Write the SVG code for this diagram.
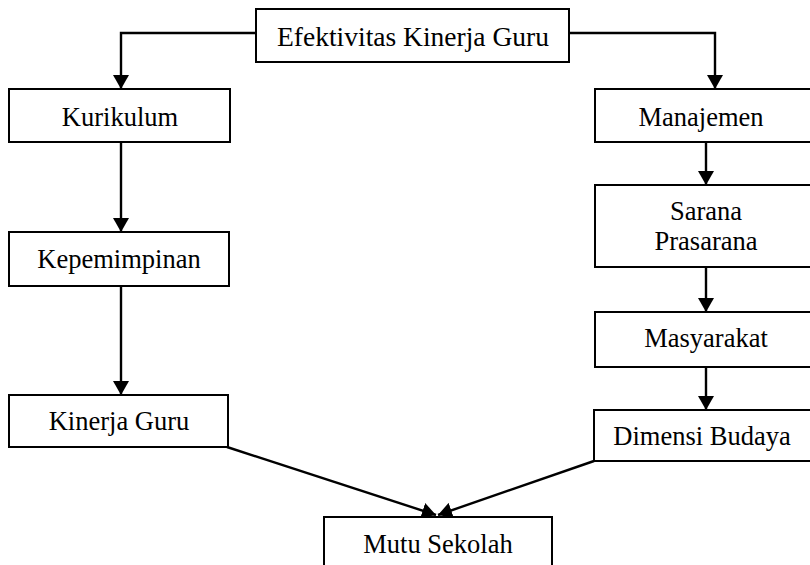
<svg xmlns="http://www.w3.org/2000/svg" width="810" height="565" viewBox="0 0 810 565">
<style>
.box{fill:#fff;stroke:#000;stroke-width:2}
.t{font-family:"Liberation Serif","Times New Roman","DejaVu Serif",serif;font-size:26.5px;fill:#000;text-anchor:middle}
.c{fill:none;stroke:#000;stroke-width:2.4}
</style>
<defs>
<marker id="ah" markerUnits="userSpaceOnUse" markerWidth="15" markerHeight="16" refX="14" refY="8" orient="auto">
<path d="M0,0 L14,8 L0,16 z" fill="#000"/>
</marker>
</defs>
<rect width="810" height="565" fill="#fff"/>
<g id="connectors">
<path class="c" d="M256,33 H121 V89" marker-end="url(#ah)"/>
<path class="c" d="M569,33 H715 V89" marker-end="url(#ah)"/>
<path class="c" d="M121,142 V232" marker-end="url(#ah)"/>
<path class="c" d="M121,286 V395" marker-end="url(#ah)"/>
<path class="c" d="M706,142 V185" marker-end="url(#ah)"/>
<path class="c" d="M706,267 V312" marker-end="url(#ah)"/>
<path class="c" d="M706,367 V410" marker-end="url(#ah)"/>
<path class="c" d="M227,447 L436,515" marker-end="url(#ah)"/>
<path class="c" d="M594,461 L438,515" marker-end="url(#ah)"/>
</g>
<g id="efektivitas">
<rect class="box" x="256" y="9" width="313" height="53"/>
<text class="t" x="413" y="46" style="font-size:27.5px">Efektivitas Kinerja Guru</text>
</g>
<g id="kurikulum">
<rect class="box" x="9" y="89" width="221" height="53"/>
<text class="t" x="120" y="126">Kurikulum</text>
</g>
<g id="kepemimpinan">
<rect class="box" x="9" y="232" width="220" height="54"/>
<text class="t" x="119" y="268">Kepemimpinan</text>
</g>
<g id="kinerja-guru">
<rect class="box" x="9" y="395" width="219" height="52"/>
<text class="t" x="119" y="430">Kinerja Guru</text>
</g>
<g id="manajemen">
<rect class="box" x="595" y="89" width="220" height="53"/>
<text class="t" x="701" y="126">Manajemen</text>
</g>
<g id="sarana-prasarana">
<rect class="box" x="595" y="185" width="220" height="82"/>
<text class="t" x="706" y="220">Sarana</text>
<text class="t" x="706" y="250">Prasarana</text>
</g>
<g id="masyarakat">
<rect class="box" x="595" y="312" width="220" height="55"/>
<text class="t" x="706" y="347">Masyarakat</text>
</g>
<g id="dimensi-budaya">
<rect class="box" x="594" y="410" width="221" height="51"/>
<text class="t" x="702" y="445">Dimensi Budaya</text>
</g>
<g id="mutu-sekolah">
<rect class="box" x="324" y="517" width="228" height="60"/>
<text class="t" x="438" y="553">Mutu Sekolah</text>
</g>
</svg>
